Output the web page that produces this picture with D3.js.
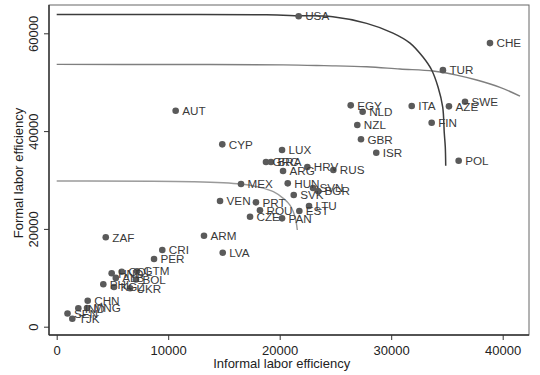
<!DOCTYPE html>
<html>
<head>
<meta charset="utf-8">
<script src="https://cdn.jsdelivr.net/npm/d3@7"></script>
<style>
  html, body { margin: 0; padding: 0; background: #fff; }
  svg { display: block; font-family: "Liberation Sans", Arial, sans-serif; }
</style>
</head>
<body>
<svg id="chart" width="540" height="375"></svg>
<script>
// Country codes and their informal / formal labor efficiency
const countries = ["USA","CHE","TUR","SWE","AZE","ITA","FIN","EGY","NLD","NZL","GBR","ISR","POL",
  "RUS","HRV","CYP","LUX","GRC","BRA","ARG","MEX","HUN","SVN","BGR","SVK","LTU","EST","PAN","CZE",
  "ROU","PRT","VEN","AUT","ARM","LVA","CRI","PER","ZAF","HND","COL","GTM","ALB","BOL","PHL","KGZ",
  "UKR","CHN","IND","MNG","SEN","TJK"];
const informal = [21700,38860,34640,36620,35180,31840,33630,26370,27440,26960,27290,28660,36050,
  24810,22480,14850,20210,18770,19220,20300,16530,20720,22990,23440,21260,22630,21760,20210,17340,
  18230,17870,14650,10670,13210,14890,9470,8730,4400,4930,5830,7200,5300,7110,4180,5140,
  6580,2780,1940,2720,970,1400];
const formal = [63500,58000,52460,46000,45060,45120,41710,45270,43960,41240,38320,35580,33940,
  32040,32650,37290,36130,33670,33670,31830,29180,29320,28360,27750,26930,24680,23660,22160,22490,
  23800,25430,25700,44160,18610,15130,15680,13840,18280,10920,11250,11330,9980,9650,8670,8120,
  7850,5320,3760,3820,2700,1640];

// Frontier curves (informal, formal) pairs
const frontierTop = [[0,63850],[10000,63830],[18830,63780],[21700,63600],[24760,63380],[27800,62030],
  [30160,60050],[31690,58000],[32850,55140],[33630,52490],[34200,49010],[34620,44920],[34760,39600],
  [34850,36800],[34890,32920]];
const frontierMid = [[0,53640],[10000,53620],[20300,53540],[24000,53380],[27800,53160],[30790,52690],
  [33750,52280],[35870,51460],[37670,50440],[39760,48950],[41550,47150]];
const frontierLow = [[0,29800],[12250,29650],[16530,29180],[18230,28500],[19430,27600],[20320,26250],
  [20920,24880],[21370,22490],[21580,19770]];

const xTicks = [0,10000,20000,30000,40000];
const yTicks = [0,20000,40000,60000];

const svg = d3.select("#chart");
const frame = {left: 49, top: 5, right: 529, bottom: 335};

const x = d3.scaleLinear().domain([0, 40000]).range([56.7, 502.7]);
const y = d3.scaleLinear().domain([0, 60000]).range([326.7, 33.3]);

// plot region outline
svg.append("rect")
  .attr("x", frame.left).attr("y", frame.top)
  .attr("width", frame.right - frame.left).attr("height", frame.bottom - frame.top)
  .attr("fill", "none").attr("stroke", "#666").attr("stroke-width", 1);

// axes
const xAxis = svg.append("g")
  .attr("transform", `translate(0,${frame.bottom})`)
  .call(d3.axisBottom(x).tickValues(xTicks).tickSize(5).tickPadding(6).tickFormat(d3.format("d")));
xAxis.select(".domain").attr("d", `M${frame.left},0H${frame.right}`).attr("stroke", "#333").attr("stroke-width", 1.4);
xAxis.selectAll(".tick line").attr("stroke", "#333");
xAxis.selectAll(".tick text").attr("font-size", 13).attr("fill", "#222")
  .attr("font-family", "Liberation Sans, Arial, sans-serif");

const yAxis = svg.append("g")
  .attr("transform", `translate(${frame.left},0)`)
  .call(d3.axisLeft(y).tickValues(yTicks).tickSize(5).tickFormat(d3.format("d")));
yAxis.select(".domain").attr("d", `M0,${frame.top}V${frame.bottom}`).attr("stroke", "#333").attr("stroke-width", 1.4);
yAxis.selectAll(".tick line").attr("stroke", "#333");
yAxis.selectAll(".tick text")
  .attr("font-size", 13).attr("fill", "#222")
  .attr("font-family", "Liberation Sans, Arial, sans-serif")
  .attr("x", null).attr("dy", null)
  .attr("text-anchor", "middle")
  .attr("transform", "translate(-11.5,0) rotate(-90)");

// axis titles
svg.append("text")
  .attr("x", (x(0) + x(40000)) / 2 + 2).attr("y", 368)
  .attr("text-anchor", "middle").attr("font-size", 13).attr("fill", "#222")
  .text("Informal labor efficiency");
svg.append("text")
  .attr("transform", "translate(22.5,173) rotate(-90)")
  .attr("text-anchor", "middle").attr("font-size", 13).attr("fill", "#222")
  .text("Formal labor efficiency");

// frontier curves
const line = d3.line().x(d => x(d[0])).y(d => y(d[1])).curve(d3.curveCatmullRom.alpha(0.5));
const curves = [
  {pts: frontierLow, color: "#9a9a9a", w: 1.4},
  {pts: frontierMid, color: "#7f7f7f", w: 1.4},
  {pts: frontierTop, color: "#3c3c3c", w: 1.5}
];
svg.append("g").selectAll("path").data(curves).join("path")
  .attr("d", d => line(d.pts))
  .attr("fill", "none")
  .attr("stroke", d => d.color)
  .attr("stroke-width", d => d.w);

// country points and labels
const pts = countries.map((c, i) => ({code: c, xi: informal[i], yf: formal[i]}));
const g = svg.append("g");
g.selectAll("circle").data(pts).join("circle")
  .attr("cx", d => x(d.xi)).attr("cy", d => y(d.yf)).attr("r", 3.3)
  .attr("fill", "#5a5a5a");
g.selectAll("text").data(pts).join("text")
  .attr("x", d => x(d.xi) + 6.5).attr("y", d => y(d.yf) + 4.2)
  .attr("font-size", 11.7).attr("fill", "#3a3a3a")
  .text(d => d.code);
</script>
</body>
</html>
